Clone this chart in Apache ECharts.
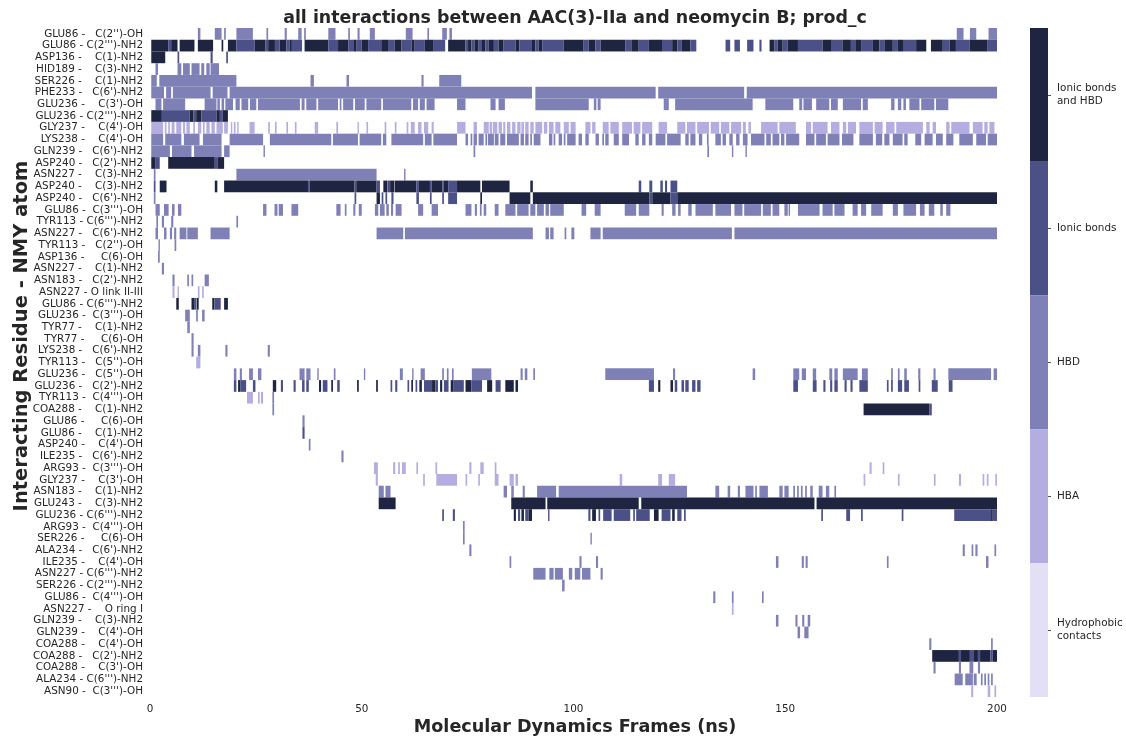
<!DOCTYPE html>
<html>
<head>
<meta charset="utf-8">
<script src="https://cdn.jsdelivr.net/npm/echarts@6/dist/echarts.min.js"></script>
<style>
  html, body { margin: 0; padding: 0; background: #ffffff; }
  #chart { width: 1126px; height: 738px; }
</style>
</head>
<body>
<div id="chart"></div>
<script>
// Residue / ligand-atom pairs, one per row (top to bottom)
const residues = ['GLU86','GLU86','ASP136','HID189','SER226','PHE233','GLU236','GLU236','GLY237','LYS238',
  'GLN239','ASP240','ASN227','ASP240','ASP240','GLU86','TYR113','ASN227','TYR113','ASP136',
  'ASN227','ASN183','ASN227','GLU86','GLU236','TYR77','TYR77','LYS238','TYR113','GLU236',
  'GLU236','TYR113','COA288','GLU86','GLU86','ASP240','ILE235','ARG93','GLY237','ASN183',
  'GLU243','GLU236','ARG93','SER226','ALA234','ILE235','ASN227','SER226','GLU86','ASN227',
  'GLN239','GLN239','COA288','COA288','COA288','ALA234','ASN90'];
const atoms = ["C(2'')-OH","C(2''')-NH2","C(1)-NH2","C(3)-NH2","C(1)-NH2","C(6')-NH2","C(3')-OH","C(2''')-NH2","C(4')-OH","C(4')-OH",
  "C(6')-NH2","C(2')-NH2","C(3)-NH2","C(3)-NH2","C(6')-NH2","C(3''')-OH","C(6''')-NH2","C(6')-NH2","C(2'')-OH","C(6)-OH",
  "C(1)-NH2","C(2')-NH2","O link II-III","C(6''')-NH2","C(3''')-OH","C(1)-NH2","C(6)-OH","C(6')-NH2","C(5'')-OH","C(5'')-OH",
  "C(2')-NH2","C(4''')-OH","C(1)-NH2","C(6)-OH","C(1)-NH2","C(4')-OH","C(6')-NH2","C(3''')-OH","C(3')-OH","C(1)-NH2",
  "C(3)-NH2","C(6''')-NH2","C(4''')-OH","C(6)-OH","C(6')-NH2","C(4')-OH","C(6''')-NH2","C(2''')-NH2","C(4''')-OH","O ring I",
  "C(3)-NH2","C(4')-OH","C(4')-OH","C(2')-NH2","C(3')-OH","C(6''')-NH2","C(3''')-OH"];

// Interaction classes, weakest to strongest
const contactTypes = ['Hydrophobic contacts', 'HBA', 'HBD', 'Ionic bonds', 'Ionic bonds and HBD'];
const typeCodes = 'HADIX';
const typeColors = ['#e3dff5', '#b4aee0', '#7f80b6', '#4b5187', '#1f2540'];

// Time axis (ns)
const timeTicks = [0, 50, 100, 150, 200];
const frameStep = 0.4;

// Interaction runs per row: <type code><start ns>-<end ns>
const contactRuns = [
  "D11.3-11.9 D15.3-16.9 D17.5-17.9 D20.4-24.3 D27.5-27.9 D31.8-32.3 D35-35.8 D36.4-36.8 D42.1-43.8 D46.8-47.2 D49-49.5 D51.9-53.1 D60.4-62 D65.5-65.9 D69-70.1 D70.7-71.3 D190.5-192.1 D193.6-195.1 D198-200",
  "X0.3-4.3 I4.3-5 X5-6.5 X7-10.5 X11.3-14.9 X16.9-17.3 X18.4-20.4 I20.4-24.7 X24.7-27.2 I27.2-27.9 X27.9-29.5 I29.5-30.6 X30.6-32.2 I32.2-33 X33-33.5 I33.5-35.9 X36.5-42.1 I42.1-44.4 X44.4-46.8 I46.8-48 X48-48.8 I48.8-50 X50-51.5 I51.5-54.6 X54.6-56.2 I56.2-57.8 X57.8-59.4 I59.4-61.8 X61.8-62.5 I62.5-64.9 X64.9-67 I67-69.7 X70.4-74.5 I74.5-75.1 X75.1-75.9 I75.9-76.7 X76.7-77.6 I77.6-78.4 X78.4-79.2 I79.2-80 X80-81.2 I81.2-82.3 X82.3-83.5 I83.5-86.3 X86.3-87.2 I87.2-90.2 X90.2-91 I91-91.8 X91.8-92.6 I92.6-97.7 X97.7-102.4 I102.4-103.6 X103.6-105.2 I105.2-106.4 X106.4-112.3 I112.3-113.8 X113.8-115.4 I115.4-117.8 X117.8-120.9 I120.9-123.3 X123.3-124.5 I124.5-125.6 X125.6-127.6 I127.6-129 I135.9-137 I138-139.3 I141-142.5 I143.9-144.4 X146.3-147.4 I147.4-148.2 X148.2-149.4 I149.4-150.6 X150.6-153 I153-158.8 X158.8-160.8 I160.8-163.5 X163.5-165.5 I165.5-166.7 X166.7-167.9 I167.9-170.7 X170.7-172.2 I172.2-173.4 X173.4-175.4 I175.4-176.6 X176.6-177.8 I177.8-180.9 X180.9-183.3 X184.4-187.2 I187.2-188.8 X188.8-190.3 I190.3-193.5 X193.5-197.8 I197.8-200",
  "X0.3-3.6 I6.5-6.9 I14.3-14.8 I18-18.4",
  "D1.3-1.9 D6.5-7.4 D7.8-9.4 D9.8-11.7 D12.1-12.8 D13.3-14.1 D14.3-16.3",
  "D0.3-1.6 D2.2-20.4 D37.9-38.7 D46.4-47 D64.1-64.6 D68.3-73.5",
  "D0.3-3.3 D3.8-5 D5.4-14.3 D14.8-18.3 D18.8-90.2 D91-119.4 D120-140.3 D140.9-200",
  "D1.3-2.7 D3.1-8.3 D12.9-15.7 D15.9-16.5 D16.9-17.5 D17.8-19.6 D20.2-21.2 D21.6-23.2 D23.6-25.1 D25.5-35.4 D35.8-36.5 D36.9-39.3 D39.7-44.4 D44.8-45.2 D45.6-48 D48.4-50.7 D51.1-54.6 D55-61.7 D62.1-63.3 D63.7-64.9 D65.3-67.2 D72.5-74.5 D80.4-81.6 D82.3-83.8 D91-103.6 D104.8-105.4 D105.7-106.4 D121.3-122.5 D124-142.3 D145.3-151.9 D153.3-154 D154.3-156.3 D157.3-160.4 D160.8-162.4 D163.6-167.9 D168.3-169.5 D175-175.8 D176.6-177.4 D177.9-178.5 D179.3-181.7 D182.1-185.2 D185.6-188.5",
  "X0.3-2.8 I2.8-9.4 X9.4-10.2 I10.2-10.9 X10.9-12.1 I12.1-15.7 X15.7-16.5 I16.5-17.2 X17.2-18.4",
  "A0.3-3.1 A3.5-3.9 A4.3-4.7 A5.1-5.8 A6.2-7.4 A7.8-8.3 A8.6-9.4 A10.2-10.6 A11.3-12.1 A12.5-12.9 A13.3-14.1 A14.5-15.3 A15.7-17.2 A17.5-18.4 A19.1-19.4 A19.8-20.2 A20.6-20.9 A23.5-24.7 A27.9-28.3 A29.5-29.9 A32.2-32.6 A34.2-34.6 A38.9-39.7 A44-44.4 A49-49.3 A51.1-51.5 A55.4-55.8 A57.8-58.2 A60.6-61 A61.6-62.5 A63.3-64.1 A64.7-65.7 A66.5-67 A72.5-74.5 A76.4-77.2 A78.8-80 A80.2-80.8 A81-82 A82.3-83.1 A83.4-83.9 A84.3-85.1 A85.5-86.3 A86.7-87.5 A87.7-88.3 A88.6-89.4 A89.8-90.6 A91-92.6 A93-93.8 A94.2-95.3 A95.7-96.9 A97.7-98.9 A99.3-100.5 A102.8-104 A104.4-105.2 A106.9-108.3 A108.7-110.7 A111.5-113.8 A114.2-115.8 A116.2-118.6 A120.1-122.1 A124.5-126.4 A126.8-128.8 A129.2-132 A132.4-134.4 A134.8-136.8 A137.2-139.6 A140-140.7 A141.3-141.9 A144.3-148.2 A148.6-152.5 A154.9-156.1 A156.5-160 A160.8-162.8 A163.6-164.4 A164.8-166.7 A167.5-170.7 A171.1-173 A173.8-175.8 A176.2-182.5 A183.3-184.1 A184.8-185.6 A188-188.8 A189.2-193.5 A194.3-196.6 A197-197.8 A198.2-199.4",
  "D0.3-3.1 D3.6-7.4 D8-11.7 D12.5-16.9 D18.8-26.7 D28.3-42.8 D43.2-49.1 D49.5-54.6 D55-55.8 D57-64.5 D64.9-66.5 D66.9-72.5 D74.5-75.1 D75.7-76.1 D76.4-77.2 D77.6-78.8 D79.2-79.6 D79.8-81.2 D81.4-82.3 D82.7-83.9 D84.3-87.1 D87.5-88.3 D88.6-89.4 D89.8-90.2 D90.6-92.2 D94.2-95 D95.3-95.7 D96.5-97.3 D97.7-98.1 D98.5-100.5 D101.2-102 D102.8-103.6 D105.2-106 D106.8-107.2 D107.5-108.3 D109.5-110.7 D111.5-113.1 D114.6-115.4 D116.2-117 D117.8-118.6 D119.4-121.7 D122.1-125.3 D126.4-127.2 D127.6-128.8 D129.6-130.4 D131.5-131.9 D133.5-134.8 D135.2-136 D136.8-137.6 D138.4-139.2 D140-141.1 D141.9-145.1 D145.5-146.6 D147-148.6 D149-149.8 D150.2-153.3 D154.9-156.9 D157.3-159.6 D160-162.8 D163.4-166.1 D167.5-170.7 D171.4-172.9 D173.4-174.6 D175.4-177.7 D178.1-178.9 D180.7-182.1 D182.9-184.8 D185.6-187.2 D188-189.7 D191.1-194.3 D195.1-197.4 D197.8-200",
  "D0.3-4.7 D5.2-9.8 D10.4-16.9 D17.5-18.8 D26.8-27.1 D76.4-76.8 D131.6-132 D137.4-137.7 D140.6-140.9",
  "X0.3-1.2 I1.2-2.3 X4.3-15.3 I15.3-15.9 X15.9-17.5",
  "D0.9-1.3 D20.4-53.5 D60-60.3",
  "I0.9-1.3 X2.3-3.9 X15.3-15.9 X17.5-37.3 I37.3-37.7 X37.7-48.3 I48.3-48.7 X48.7-53.5 I53.5-54.3 X55.1-56.1 I56.2-56.7 X56.7-57.7 X57.8-62.9 I62.9-63.5 X63.5-66.1 I66.1-66.5 X66.5-69 I69-69.4 X69.4-70.4 I70.4-72.5 X72.5-78 X78.4-84.9 X89.8-90.4 I115.4-116 I117.9-118.6 I120.5-121.1 I121.6-122.1 I122.9-124.5",
  "D0.9-1.3 I48.3-48.7 X53.5-54.3 I54.7-55.1 I55.6-56 I57-57.5 I62.9-63.5 I66.1-66.5 I69-69.4 I70.4-72.5 X78-78.4 X84.9-89.8 X90.4-117.9 I117.9-118.6 X118.6-122.9 I122.9-124.5 X124.5-200",
  "D1.3-2.3 D3.3-4.4 D5.2-5.8 D6.6-7.4 D26.7-27.5 D29.4-30.1 D30.4-31.4 D33.4-35 D44-45 D46-46.4 D48-48.5 D49.3-50 D53.1-53.9 D54.3-55.4 D55.8-56.4 D56.9-57.4 D58-59.4 D63.3-64.5 D66.5-68 D74.5-75.9 D76.7-77.2 D77.9-78.3 D78.8-79.4 D81.4-82.3 D83.9-86.3 D86.7-89.4 D89.8-91 D91.4-93 D93.4-94.2 D94.5-97.7 D101.9-103 D105-106.4 D112.1-114.8 D115.4-117.9 D120.8-121.3 D123.3-124.1 D124.7-125.3 D127.1-127.9 D128.8-132.9 D133.5-137.2 D138-139.9 D140.3-144.3 D144.7-146.6 D147-148.6 D149.8-150.6 D150.8-151.1 D153-158.1 D158.8-161.2 D161.6-164 D165.9-167.1 D167.9-169.1 D170.3-173 D175.4-176.6 D177.9-180.9 D181.8-182.9 D183.9-185.2 D186.6-187.2 D188-189",
  "D1.5-1.9 D2.8-3.3 D5-5.5 D20.4-20.8",
  "D1.3-1.9 D3.3-3.9 D4.7-5.2 D5.7-6.2 D7-8.6 D8.8-11.3 D14.3-18.8 D53.5-59.8 D60.2-90.4 D93.4-94.2 D94.5-95.3 D97.9-98.3 D99.5-100.2 D104-106.4 D106.9-137.4 D138-200",
  "D2-2.3 D5.8-6.2",
  "D1.9-2.3",
  "D2.8-3.3",
  "D5.3-5.8 D8.8-9.2 D9.8-10.2 D12.9-13.9",
  "A5.3-5.8 A6.5-6.8 A11.3-11.7 A12.3-12.7",
  "X6.2-6.8 X9.8-10.4 I10.4-10.9 X11-11.5 X14.7-15.2 I15.2-16.7 X17.5-18.4",
  "D8.3-9.4 D10.9-11.3 D12.3-12.9",
  "D8.8-9.4",
  "D9.8-10.3",
  "D9.8-10.3 D11.3-11.9 D17.8-18.3 D27.8-28.3",
  "A10.9-11.9",
  "D19.8-20.4 D21.2-21.7 D23.4-24.3 D25.5-26.3 D35.3-36.5 D36.9-37.9 D39.5-39.8 D43.4-43.8 D50.5-50.8 D59-59.7 D61.9-62.2 D63.9-64.9 D69-69.4 D70.1-70.5 D71.3-71.7 D76-80.6 D87.5-88 D88.5-89.1 D90.5-90.9 D107.5-119 D123.5-124 D142.3-142.9 D151.9-153.3 D153.9-154.9 D156.5-157.3 D160.4-161.1 D161.6-162.4 D163.6-167.1 D168.1-169.5 D175-175.4 D176.6-177 D178.1-178.7 D181.4-181.9 D185-185.5 D188.5-198.6 D199.2-200",
  "I19.8-20.4 X20.8-21.3 I21.3-22.7 I24.3-24.9 X29-29.8 I30.9-31.4 I33.9-34.4 I35.9-36.5 I36.9-37.5 X39.9-40.4 I40.8-41.9 X42.8-43.2 I44.2-44.8 X48.9-49.3 X53.4-53.8 I56.8-57.2 I57.9-58.4 I60.8-61.2 X61.7-62.1 I62.7-63.1 X63.6-64.2 I64.7-66.6 X66.6-67.4 I67.4-68 X68.5-69 I69.4-70.5 X71-71.7 I71.7-74.1 X74.5-75.9 I75.9-78.4 X79.6-80.8 I81.6-82.8 X83.9-85.9 X86.3-86.9 I117.8-119 X120-120.5 X122.9-123.5 I123.9-124.5 I125.5-126.1 I126.4-127.2 I128-128.8 I129.2-130 I151.9-153 I156.5-157.4 I159-159.5 I160.6-161.1 I161.6-162.4 I164-164.5 I165.4-165.9 I167.5-169.5 I174-174.4 I175-175.4 I176.6-177.6 I178.1-179.2 I181.5-181.9 I184.6-186 I188.6-189.5",
  "A22.9-24.3 A25.5-25.9 A26.2-26.7 D28.9-29.3",
  "D28.9-29.3 X168.5-184 I184-184.6",
  "D36-36.5",
  "I36-36.5",
  "D37.5-37.9",
  "D45.2-45.7",
  "A52.9-53.8 A57.4-57.9 A58.6-59 A59.5-60.4 A62.9-63.3 A67.4-67.8 A75.4-75.9 A78-78.8 A81.4-81.8 A169.9-170.4 A173-173.4",
  "A53.3-53.8 A64.5-64.9 A67.6-72.5 A74.5-74.9 A77.5-77.9 A81.4-82.3 A84.9-85.9 A86.3-86.9 A110.9-111.5 A120-120.9 A122.5-124 A168.5-168.9 A176.6-177 A185.1-185.5 A191-191.5 A196.6-197 A197.6-198 A199.6-200",
  "D54-55.2 D55.6-56.8 D83.5-84.3 D85.3-85.9 D88-88.5 D91.4-95.9 D96.5-126.8 D133.5-134.4 D136.4-137 D138.8-139.3 D140.6-142.5 D142.9-143.3 D143.9-145.9 D148.6-149.4 D149.8-150.8 D151.9-152.3 D152.8-153.2 D153.7-154.1 D154.7-155.1 D155.9-156.5 D157.9-158.8 D159.6-160.4 D161.6-162",
  "X54-58 X85.3-93.4 X93.8-115.4 X116-156.9 X157.4-200",
  "I69-69.4 I71.5-72 X85.9-86.4 I86.9-87.4 X87.7-88.3 I88.6-89.4 X89.4-90.2 I94-94.3 I103.5-104 X104.4-105.3 I105.9-106.3 I107-109 I109.5-113.4 I114.1-114.5 I114.8-118 X119-120.1 I120.8-122.9 X123.3-123.9 I124.5-125.5 I126.1-126.5 I158.5-158.9 I164.4-165.3 I167.9-168.3 I177.5-177.9 I189.9-198.6 X198.6-199 I199-200",
  "D73.9-74.3",
  "D73.9-74.3 D104-104.3",
  "D75.4-75.9 D191.9-192.4 D194-194.4 D194.9-195.4 D199.4-199.8",
  "D84.9-85.3 D101.4-101.9 D105.3-105.8 D147.8-148.4 D153.9-154.4 D154.8-155.3 D174-174.4 D197.4-198",
  "D90.5-93.4 D94.3-95.3 D95.6-97.5 D98.9-99.7 D100.3-101.6 D102-104 D106.4-106.9",
  "D97.3-97.9",
  "D133-133.5 D137.4-137.8 D144.5-144.9",
  "A137.4-137.8",
  "D147.8-148.4 D152.4-152.9 D154-154.5 D155.3-155.9",
  "D152.9-153.5 D154.5-155.5",
  "D184-184.5 D198.6-199",
  "X184.7-191 I191-191.5 X191.5-193.6 I193.6-194.4 X194.4-195.5 I195.5-196 X196-198.4 I198.4-199 X199-200",
  "D185-185.5 D191-191.5 D193.5-194.4 D195.5-196",
  "D190-191.9 D192.5-194.3 D194.5-195.2 D196.2-196.6 D197-197.4 D197.8-198.2 D198.6-199",
  "A193.9-194.4 A197.8-198.4 A199.4-199.8"
];

// Build row labels: residue, then the atom right-aligned in an 11-char field
const rowLabels = residues.map((r, i) => r + ' - ' + atoms[i].padStart(11, ' '));

// Expand run strings into [start, end, row, type] records
const runData = [];
contactRuns.forEach((line, row) => {
  line.trim().split(/\s+/).forEach(tok => {
    if (!tok) return;
    const type = typeCodes.indexOf(tok[0]);
    const parts = tok.slice(1).split('-').map(Number);
    const start = parts[0];
    const end = parts.length > 1 ? parts[1] : parts[0] + frameStep;
    runData.push([start, end, row, type]);
  });
});

// Colour bar entries, strongest class at the top
const legendLabels = ['Ionic bonds\nand HBD', 'Ionic bonds', 'HBD', 'HBA', 'Hydrophobic\ncontacts'];
const legendData = legendLabels.map((l, i) => [0, i, contactTypes.length - 1 - i]);

const textColor = '#262626';
const font = 'DejaVu Sans';

const chart = echarts.init(document.getElementById('chart'), null, { renderer: 'canvas' });
chart.setOption({
  backgroundColor: '#ffffff',
  animation: false,
  textStyle: { fontFamily: font },
  grid: [
    { left: 150, top: 28, width: 847, height: 669 },
    { left: 1030, top: 28, width: 18, height: 669 }
  ],
  xAxis: [
    {
      gridIndex: 0, type: 'value', min: 0, max: 200, interval: 50,
      axisLine: { show: false }, axisTick: { show: false }, splitLine: { show: false },
      axisLabel: { color: textColor, fontSize: 10.4, fontFamily: font, margin: 7,
        formatter: v => (timeTicks.indexOf(v) >= 0 ? String(v) : '') }
    },
    { gridIndex: 1, type: 'category', data: [''], show: false }
  ],
  yAxis: [
    {
      gridIndex: 0, type: 'category', data: rowLabels, inverse: true,
      axisLine: { show: false }, axisTick: { show: false }, splitLine: { show: false },
      axisLabel: { interval: 0, color: textColor, fontSize: 10.4, fontFamily: font, margin: 7 }
    },
    {
      gridIndex: 1, type: 'category', data: legendLabels, inverse: true, position: 'right',
      axisLine: { show: false }, axisTick: { show: true, alignWithLabel: true, length: 3, lineStyle: { color: textColor, width: 0.8 } },
      splitLine: { show: false },
      axisLabel: { color: textColor, fontSize: 10.4, fontFamily: font, margin: 9, lineHeight: 13, align: 'left' }
    }
  ],
  graphic: [
    { type: 'text', x: 575, y: 18, style: { text: 'all interactions between AAC(3)-IIa and neomycin B; prod_c',
        font: 'bold 17.4px "DejaVu Sans"', fill: textColor, textAlign: 'center', textVerticalAlign: 'middle' } },
    { type: 'text', x: 575, y: 727, style: { text: 'Molecular Dynamics Frames (ns)',
        font: 'bold 17.6px "DejaVu Sans"', fill: textColor, textAlign: 'center', textVerticalAlign: 'middle' } },
    { type: 'text', x: 22, y: 336, rotation: Math.PI / 2, style: { text: 'Interacting Residue - NMY atom',
        font: 'bold 19.5px "DejaVu Sans"', fill: textColor, textAlign: 'center', textVerticalAlign: 'middle' } }
  ],
  series: [
    {
      type: 'custom', xAxisIndex: 0, yAxisIndex: 0,
      data: runData,
      encode: { x: [0, 1], y: 2 },
      renderItem: function (params, api) {
        const a = api.coord([api.value(0), api.value(2)]);
        const b = api.coord([api.value(1), api.value(2)]);
        const h = api.size([0, 1])[1];
        return {
          type: 'rect',
          shape: { x: a[0], y: a[1] - h / 2, width: Math.max(b[0] - a[0], 1.4), height: h },
          style: { fill: typeColors[api.value(3)] }
        };
      }
    },
    {
      type: 'custom', xAxisIndex: 1, yAxisIndex: 1,
      data: legendData,
      renderItem: function (params, api) {
        const c = api.coord([api.value(0), api.value(1)]);
        const s = api.size([1, 1]);
        return {
          type: 'rect',
          shape: { x: c[0] - s[0] / 2, y: c[1] - s[1] / 2, width: s[0], height: s[1] },
          style: { fill: typeColors[api.value(2)] }
        };
      }
    }
  ]
});
</script>
</body>
</html>
